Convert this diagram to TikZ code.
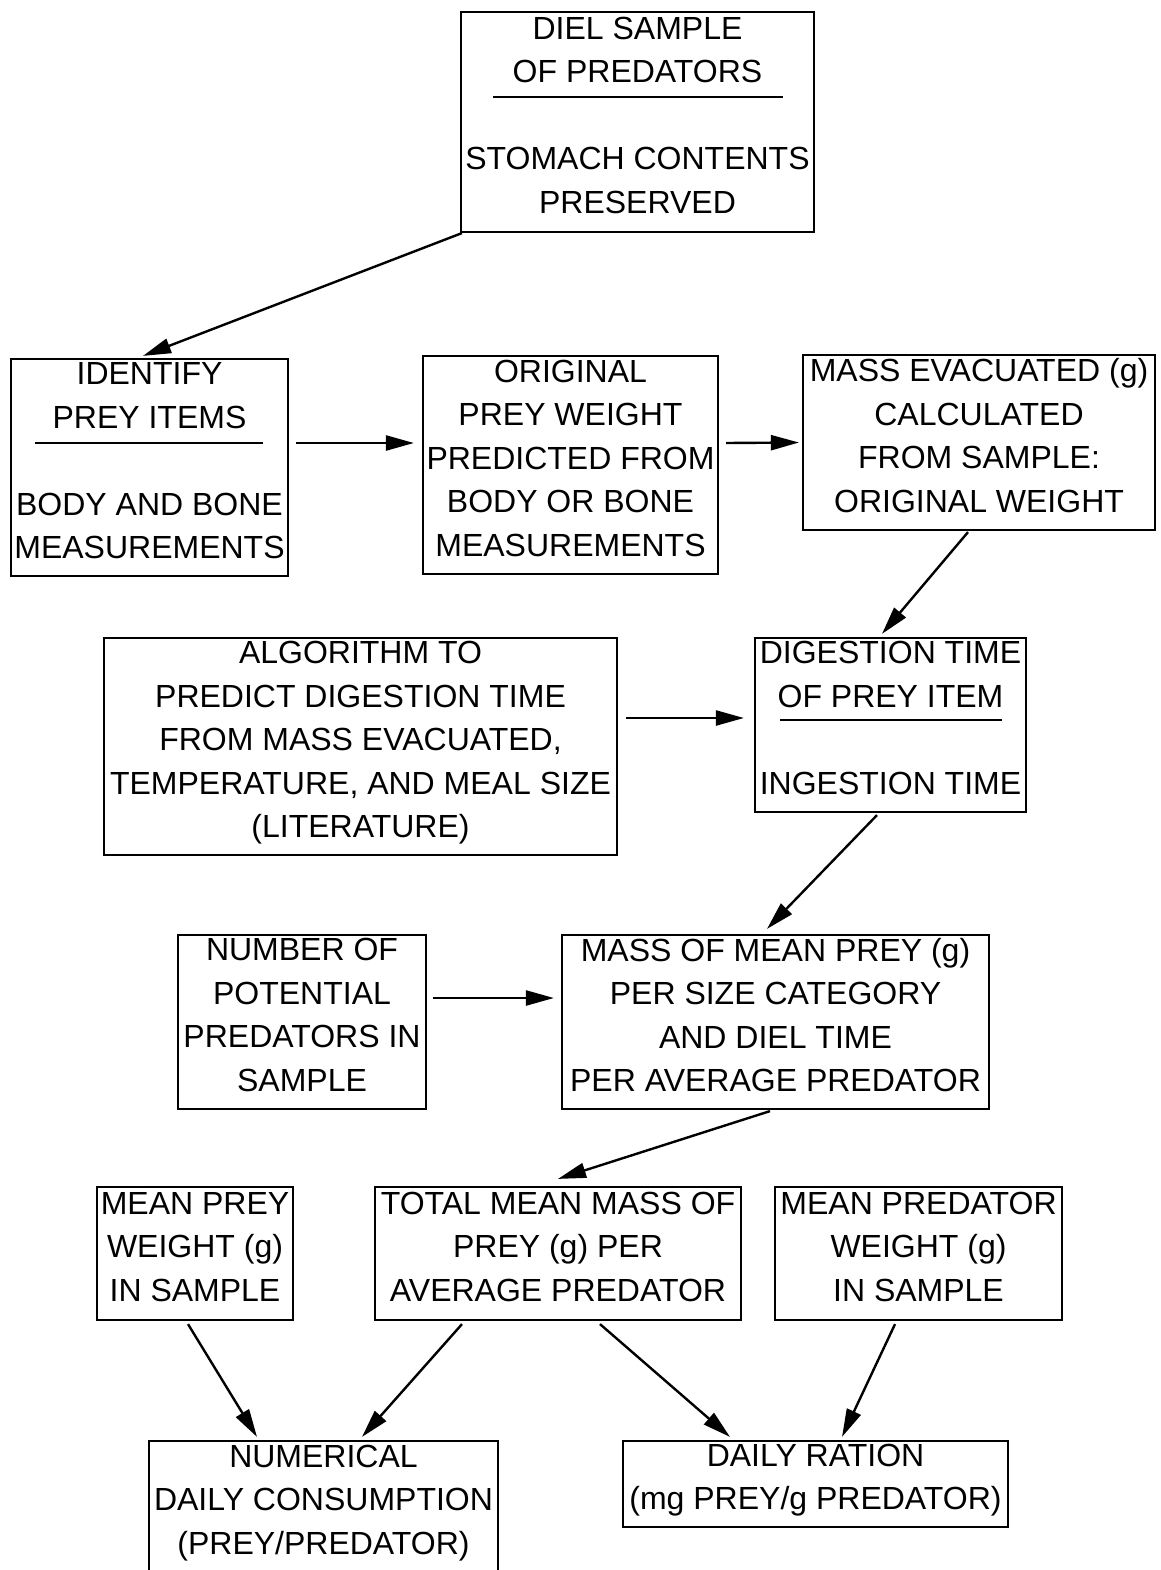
\documentclass[tikz,border=0pt]{standalone}
\usepackage{fontspec}
\setmainfont{Liberation Sans}
\usetikzlibrary{arrows.meta}

\tikzset{
  stage/.style={draw, line width=2.2pt, inner sep=0pt, align=center, text depth=14pt,
    font=\fontsize{32}{43.5}\selectfont},
  flow/.style={line width=2.4pt, -{Triangle[length=28pt,width=15pt]}},
  bar/.style={line width=2.2pt}
}

\begin{document}
\begin{tikzpicture}[x=1pt,y=-1pt]
\useasboundingbox (0,0) rectangle (1160,1570);
\clip (0,0) rectangle (1160,1570);

\node [stage, minimum width=353pt, minimum height=220pt] (diel) at (637.5,122)
  {DIEL SAMPLE\\OF PREDATORS\\[43.5pt]STOMACH CONTENTS\\PRESERVED};
\node [stage, minimum width=277pt, minimum height=217pt] (identify) at (149.5,467.5)
  {IDENTIFY\\PREY ITEMS\\[43.5pt]BODY AND BONE\\MEASUREMENTS};
\node [stage, minimum width=295pt, minimum height=218pt] (original) at (570.5,465)
  {ORIGINAL\\PREY WEIGHT\\PREDICTED FROM\\BODY OR BONE\\MEASUREMENTS};
\node [stage, minimum width=352pt, minimum height=175pt] (evacuated) at (979,442.5)
  {MASS EVACUATED (g)\\CALCULATED\\FROM SAMPLE:\\ORIGINAL WEIGHT};
\node [stage, minimum width=513pt, minimum height=217pt] (algorithm) at (360.5,746.5)
  {ALGORITHM TO\\PREDICT DIGESTION TIME\\FROM MASS EVACUATED,\\TEMPERATURE, AND MEAL SIZE\\(LITERATURE)};
\node [stage, minimum width=271pt, minimum height=174pt] (digestion) at (890.5,725)
  {DIGESTION TIME\\OF PREY ITEM\\[43.5pt]INGESTION TIME};
\node [stage, minimum width=248pt, minimum height=174pt] (number) at (302,1022)
  {NUMBER OF\\POTENTIAL\\PREDATORS IN\\SAMPLE};
\node [stage, minimum width=427pt, minimum height=174pt] (meanprey) at (775.5,1022)
  {MASS OF MEAN PREY (g)\\PER SIZE CATEGORY\\AND DIEL TIME\\PER AVERAGE PREDATOR};
\node [stage, minimum width=196pt, minimum height=133pt] (preyweight) at (195,1253.5)
  {MEAN PREY\\WEIGHT (g)\\IN SAMPLE};
\node [stage, minimum width=366pt, minimum height=133pt] (totalmass) at (558,1253.5)
  {TOTAL MEAN MASS OF\\PREY (g) PER\\AVERAGE PREDATOR};
\node [stage, minimum width=287pt, minimum height=133pt] (predweight) at (918.5,1253.5)
  {MEAN PREDATOR\\WEIGHT (g)\\IN SAMPLE};
\node [stage, minimum width=349pt, minimum height=131pt] (numerical) at (323.5,1506.5)
  {NUMERICAL\\DAILY CONSUMPTION\\(PREY/PREDATOR)};
\node [stage, minimum width=385pt, minimum height=86pt] (ration) at (815.5,1484)
  {DAILY RATION\\(mg PREY/g PREDATOR)};

% rules under the headings
\draw [bar] (493,97) -- (783,97);
\draw [bar] (35,443) -- (263,443);
\draw [bar] (780,720) -- (1002,720);

% connectors
\draw [flow] ([xshift=2pt]diel.south west) -- ([xshift=-6.5pt,yshift=2pt]identify.north);
\draw [flow] ([xshift=7pt,yshift=24.5pt]identify.east) -- ([xshift=-8pt,yshift=22pt]original.west);
\draw [flow] ([xshift=7pt,yshift=22pt]original.east) -- ([xshift=-3pt]evacuated.west);
\draw [flow] ([xshift=-11pt,yshift=-1pt]evacuated.south) -- ([xshift=-8.5pt,yshift=3pt]digestion.north);
\draw [flow] ([xshift=8pt,yshift=28.5pt]algorithm.east) -- ([xshift=-10pt,yshift=7pt]digestion.west);
\draw [flow] ([xshift=-13.5pt,yshift=-2pt]digestion.south) -- ([xshift=-8.5pt,yshift=5pt]meanprey.north);
\draw [flow] ([xshift=6pt,yshift=24pt]number.east) -- ([xshift=-7pt,yshift=24pt]meanprey.west);
\draw [flow] ([xshift=-5.5pt,yshift=-1pt]meanprey.south) -- ([yshift=7pt]totalmass.north);
\draw [flow] ([xshift=-7pt,yshift=-3pt]preyweight.south) -- ([xshift=-66.5pt,yshift=3pt]numerical.north);
\draw [flow] ([xshift=-96pt,yshift=-3pt]totalmass.south) -- ([xshift=38.5pt,yshift=3pt]numerical.north);
\draw [flow] ([xshift=42pt,yshift=-3pt]totalmass.south) -- ([xshift=-85.5pt,yshift=3pt]ration.north);
\draw [flow] ([xshift=-23.5pt,yshift=-3pt]predweight.south) -- ([xshift=26.5pt,yshift=3pt]ration.north);
\end{tikzpicture}
\end{document}
